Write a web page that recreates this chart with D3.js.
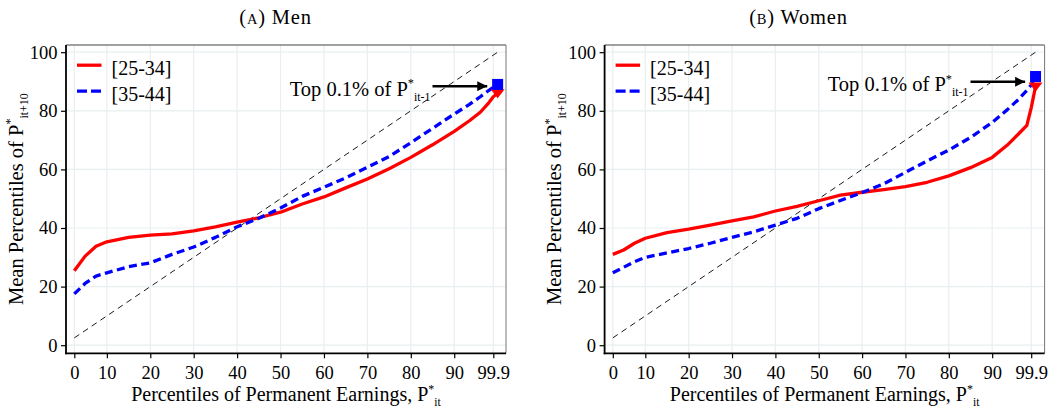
<!DOCTYPE html>
<html>
<head>
<meta charset="utf-8">
<script src="https://cdn.jsdelivr.net/npm/d3@7"></script>
<style>
  body { margin: 0; background: #fff; }
  svg { display: block; }
  svg text { font-family: "Liberation Serif", "Times New Roman", Times, "DejaVu Serif", serif !important; fill: #000; }
</style>
</head>
<body>
<div id="chart"></div>
<script>
// percentile positions of the curve points
const pct = [2.5, 5, 7.5, 10, 15, 20, 25, 30, 35, 40, 45, 50, 55, 60, 65, 70, 75, 80, 85, 90, 93.5, 96, 98, 99];

// Men
const menYoung = [25.4, 30.4, 33.8, 35.3, 36.8, 37.6, 38.0, 39.0, 40.4, 42.0, 43.5, 45.4, 48.2, 50.6, 53.7, 56.7, 60.2, 64.1, 68.4, 73.0, 76.6, 79.5, 82.8, 84.8];
const menOld   = [17.5, 21.1, 23.6, 24.7, 26.8, 28.1, 31.0, 33.5, 36.8, 40.4, 43.3, 46.8, 50.8, 53.9, 57.1, 60.7, 64.4, 69.1, 74.0, 78.9, 82.2, 84.8, 87.0, 88.0];
// Women
const womenYoung = [31.0, 32.5, 34.8, 36.5, 38.4, 39.6, 41.0, 42.4, 43.8, 45.8, 47.4, 49.3, 51.2, 52.2, 53.1, 54.1, 55.6, 57.8, 60.6, 64.1, 68.3, 72.0, 75.0, 81.0];
const womenOld   = [24.7, 26.6, 28.5, 30.0, 31.5, 33.0, 34.8, 36.8, 38.7, 41.0, 43.3, 46.6, 49.4, 52.1, 55.1, 59.0, 62.9, 66.6, 70.9, 76.0, 80.4, 83.8, 87.0, 88.8];

// top 0.1% markers ([25-34], [35-44])
const topX = 100;
const menTop = [86.0, 89.0];
const womenTop = [88.3, 91.7];

const seriesNames = ["[25-34]", "[35-44]"];
const xTickValues = [2.5, 10, 20, 30, 40, 50, 60, 70, 80, 90, 99];
const xTickLabels = ["0", "10", "20", "30", "40", "50", "60", "70", "80", "90", "99.9"];
const yTickValues = [0, 20, 40, 60, 80, 100];
const diagonal = [2.5, 100];
const arrowX = [85, 97.6];

const width = 1059, height = 411;
const serif = "'Liberation Serif', 'Times New Roman', Times, 'DejaVu Serif', serif";

const svg = d3.select("#chart").append("svg")
    .attr("width", width)
    .attr("height", height)
    .attr("font-family", serif);

svg.append("defs").append("marker")
    .attr("id", "arrowhead")
    .attr("markerUnits", "userSpaceOnUse")
    .attr("viewBox", "0 0 10 10")
    .attr("refX", 10).attr("refY", 5)
    .attr("markerWidth", 10).attr("markerHeight", 10)
    .attr("orient", "auto")
    .append("path")
    .attr("d", "M0,0 L10,5 L0,10 Z")
    .attr("fill", "#000");

const colors = ["#ff0000", "#0000ff"];

// text with P* sub/superscripts
function richText(sel, parts, mainSize) {
    parts.forEach(p => {
        const t = sel.append("tspan").text(p.t);
        if (p.sup) t.attr("font-size", mainSize * 0.6).attr("dy", -mainSize * 0.4);
        if (p.sub) t.attr("font-size", mainSize * 0.58).attr("dy", mainSize * 0.65);
    });
    return sel;
}

function drawPanel(cfg) {
    const g = svg.append("g");

    const x = d3.scaleLinear().domain([xTickValues[0], xTickValues[xTickValues.length - 1]]).range(cfg.xRange);
    const y = d3.scaleLinear().domain([0, 100]).range([345.2, 52.2]);

    // grid
    g.append("g").selectAll("line.vg")
        .data(xTickValues).enter().append("line")
        .attr("x1", d => x(d)).attr("x2", d => x(d))
        .attr("y1", cfg.top).attr("y2", cfg.bottom)
        .attr("stroke", "#e8eff1").attr("stroke-width", 1.2);
    g.append("g").selectAll("line.hg")
        .data(yTickValues).enter().append("line")
        .attr("x1", cfg.left).attr("x2", cfg.right)
        .attr("y1", d => y(d)).attr("y2", d => y(d))
        .attr("stroke", "#e8eff1").attr("stroke-width", 1.2);

    // 45 degree line
    g.append("line")
        .attr("x1", x(diagonal[0])).attr("y1", y(diagonal[0]))
        .attr("x2", x(diagonal[1])).attr("y2", y(diagonal[1]))
        .attr("stroke", "#000").attr("stroke-width", 0.9)
        .attr("stroke-dasharray", "6,4.5");

    const line = d3.line().x(d => x(d[0])).y(d => y(d[1]));

    cfg.series.forEach((vals, i) => {
        const pts = pct.map((p, j) => [p, vals[j]]);
        pts.push([topX, cfg.top01[i]]);
        g.append("path")
            .datum(pts)
            .attr("d", line)
            .attr("fill", "none")
            .attr("stroke", colors[i])
            .attr("stroke-width", 3.3)
            .attr("stroke-linejoin", "round")
            .attr("stroke-dasharray", i === 1 ? "8,4.5" : null);
    });

    // top 0.1% markers
    const tri = cfg.top01[0];
    g.append("path")
        .attr("d", `M${x(topX) - 7},${y(tri) - 4} L${x(topX) + 7},${y(tri) - 4} L${x(topX)},${y(tri) + 5} Z`)
        .attr("fill", colors[0]);
    g.append("rect")
        .attr("x", x(topX) - 5.5).attr("y", y(cfg.top01[1]) - 5.5)
        .attr("width", 11).attr("height", 11)
        .attr("fill", colors[1]);

    // annotation arrow
    g.append("line")
        .attr("x1", x(arrowX[0])).attr("x2", x(arrowX[1]))
        .attr("y1", y(cfg.arrowY)).attr("y2", y(cfg.arrowY))
        .attr("stroke", "#000").attr("stroke-width", 2.6)
        .attr("marker-end", "url(#arrowhead)");
    richText(g.append("text")
        .attr("x", x(arrowX[0]) - 2)
        .attr("y", y(cfg.arrowY) + 9.5)
        .attr("text-anchor", "end")
        .attr("font-size", 20.5),
        [{ t: "Top 0.1% of P" }, { t: "*", sup: true }, { t: "it-1", sub: true }], 20.5);

    // panel border
    g.append("line").attr("x1", cfg.left).attr("x2", cfg.right).attr("y1", cfg.top).attr("y2", cfg.top)
        .attr("stroke", "#444").attr("stroke-width", 1.2);
    g.append("line").attr("x1", cfg.right).attr("x2", cfg.right).attr("y1", cfg.top).attr("y2", cfg.bottom)
        .attr("stroke", "#777").attr("stroke-width", 1);

    // axes
    const xAxis = g.append("g")
        .attr("transform", `translate(0,${cfg.bottom})`)
        .call(d3.axisBottom(x).tickValues(xTickValues)
            .tickFormat((d, i) => xTickLabels[i])
            .tickSize(5).tickPadding(8));
    const yAxis = g.append("g")
        .attr("transform", `translate(${cfg.left},0)`)
        .call(d3.axisLeft(y).tickValues(yTickValues).tickSize(5).tickPadding(3.5));
    [xAxis, yAxis].forEach(a => {
        a.attr("font-family", serif).attr("font-size", 18.5);
        a.select(".domain").remove();
        a.selectAll("line").attr("stroke", "#000").attr("stroke-width", 1.2);
        a.selectAll("text").attr("fill", "#000");
    });
    g.append("line").attr("x1", cfg.left).attr("x2", cfg.left).attr("y1", cfg.top).attr("y2", cfg.bottom + 0.9)
        .attr("stroke", "#000").attr("stroke-width", 1.8);
    g.append("line").attr("x1", cfg.left - 0.9).attr("x2", cfg.right).attr("y1", cfg.bottom).attr("y2", cfg.bottom)
        .attr("stroke", "#000").attr("stroke-width", 1.8);

    // axis titles
    richText(g.append("text")
        .attr("x", (cfg.left + cfg.right) / 2)
        .attr("y", 401)
        .attr("text-anchor", "middle")
        .attr("font-size", 20),
        [{ t: "Percentiles of Permanent Earnings, P" }, { t: "*", sup: true }, { t: "it", sub: true }], 20);
    richText(g.append("text")
        .attr("transform", `translate(${cfg.yTitleX},${(cfg.top + cfg.bottom) / 2}) rotate(-90)`)
        .attr("text-anchor", "middle")
        .attr("font-size", 20.5),
        [{ t: "Mean Percentiles of P" }, { t: "*", sup: true }, { t: "it+10", sub: true }], 20.5);

    // panel title
    const title = g.append("text")
        .attr("x", cfg.titleX).attr("y", 23.6)
        .attr("text-anchor", "middle")
        .attr("font-size", 20.5)
        .attr("letter-spacing", 0.8);
    title.append("tspan").text("(");
    title.append("tspan").attr("font-size", 14.5).text(cfg.letter);
    title.append("tspan").text(")  " + cfg.title);

    // legend
    const leg = g.append("g");
    seriesNames.forEach((name, i) => {
        const ly = 65.2 + i * 26;
        leg.append("line")
            .attr("x1", cfg.left + 11).attr("x2", cfg.left + 35.5)
            .attr("y1", ly).attr("y2", ly)
            .attr("stroke", colors[i]).attr("stroke-width", 3.3)
            .attr("stroke-dasharray", i === 1 ? "10,4" : null);
        leg.append("text")
            .attr("x", cfg.left + 45.5).attr("y", ly + 9.5)
            .attr("font-size", 20)
            .text(name);
    });
}

drawPanel({
    left: 66, right: 506, top: 45, bottom: 353.3,
    xRange: [74.3, 493.3],
    series: [menYoung, menOld],
    top01: menTop,
    arrowY: 88.4,
    yTitleX: 22.5,
    titleX: 275.5,
    letter: "A", title: "Men"
});

drawPanel({
    left: 604.6, right: 1044.6, top: 45, bottom: 353.3,
    xRange: [612.8, 1031.2],
    series: [womenYoung, womenOld],
    top01: womenTop,
    arrowY: 89.9,
    yTitleX: 561,
    titleX: 798.5,
    letter: "B", title: "Women"
});
</script>
</body>
</html>
